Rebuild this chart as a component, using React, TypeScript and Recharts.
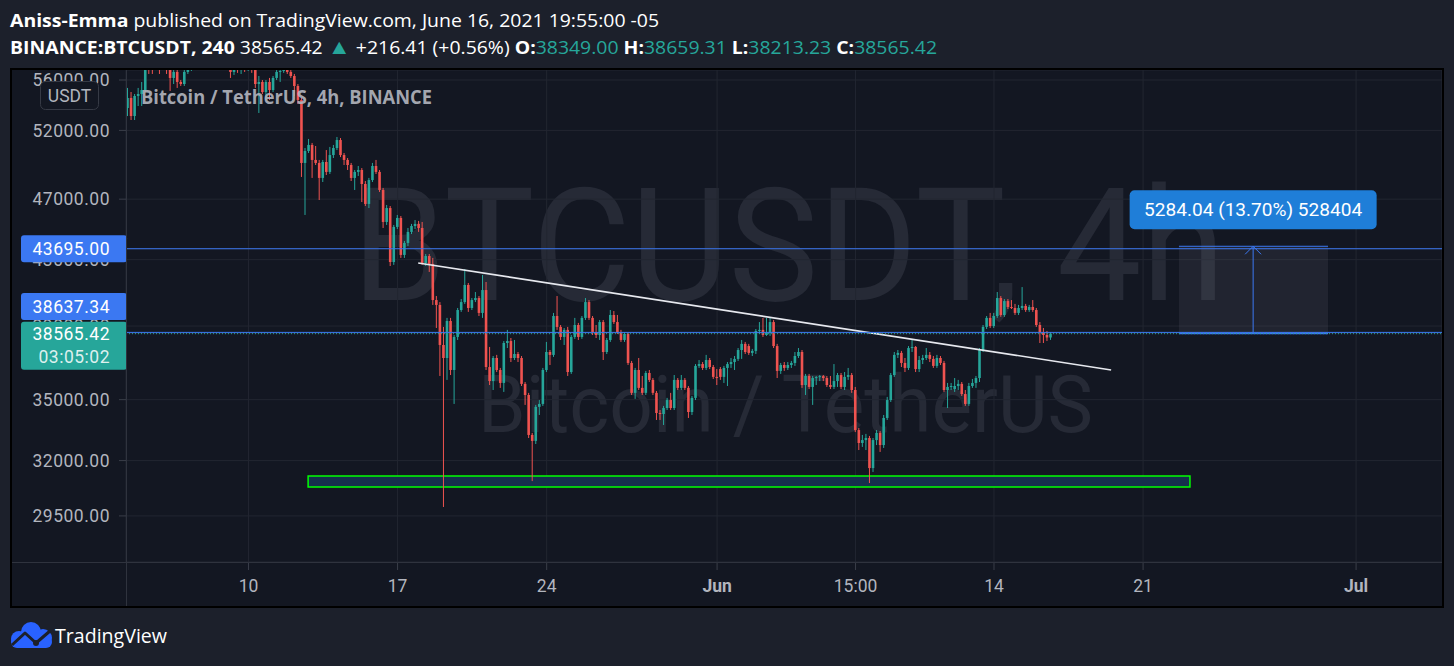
import React from "react";
import {
  ComposedChart,
  Bar,
  XAxis,
  YAxis,
  CartesianGrid,
  ReferenceLine,
  ReferenceArea,
} from "recharts";

// BINANCE:BTCUSDT 4h candles.
// Bar 0 is the first bar of May 10 (03:00, UTC-5); one bar every 4 hours.
const FIRST_BAR = -34;

const opens = [
  53740, 54540, 53110, 54700, 54860, 55180, 57500, 57170, 57000, 57420,
  57080, 57670, 56830, 56170, 56670, 55840, 55670, 56670, 57340, 57670,
  57930, 57500, 58020, 58360, 57840, 58530, 57930, 57500, 57840, 57170,
  56670, 57340, 56830, 57170, 57000, 57420, 56830, 55670, 55840, 55020,
  55840, 55180, 56170, 56670, 56750, 57080, 56670, 56330, 55510, 54380,
  49570, 50450, 50900, 49790, 49570, 48490, 49640, 48920, 50150, 50670,
  51270, 50150, 49790, 49420, 48490, 48920, 49060, 48060, 46670, 48340,
  49350, 48920, 47640, 45450, 46390, 42850, 45120, 45720, 43300, 44070,
  44790, 45180, 45320, 45050, 42790, 43230, 42730, 40520, 40230, 37930,
  37210, 39290, 36560, 38380, 39930, 40400, 41430, 40050, 40520, 40640,
  39760, 41120, 36720, 35970, 37210, 36560, 35870, 38040, 38150, 37210,
  37430, 37210, 35820, 35240, 33230, 32940, 34630, 34780, 36560, 37540,
  37380, 39580, 38950, 38380, 38780, 36450, 38380, 39060, 38380, 39470,
  40400, 39470, 38660, 38490, 39230, 37540, 38210, 39640, 39230, 38660,
  38210, 38550, 36940, 35350, 36560, 35610, 35350, 36400, 36030, 35350,
  34320, 34270, 34570, 34980, 34570, 36030, 35610, 36030, 35610, 34370,
  35090, 36780, 36880, 36670, 37100, 36720, 36190, 36610, 36190, 36670,
  36880, 36990, 37160, 37650, 37990, 37870, 37490, 37600, 38720, 38780,
  38490, 38610, 39230, 37870, 36510, 36830, 36670, 36830, 36940, 37320,
  37540, 35760, 36240, 35660, 36130, 36180, 36230, 36130, 35760, 35660,
  35970, 36290, 35660, 36190, 36290, 35500, 33470, 32840, 32980, 33080,
  31650, 32980, 33330, 32740, 34070, 34980, 36290, 37380, 37490, 36940,
  36670, 37760, 37820, 36610, 37100, 37210, 37380, 37160, 36780, 37210,
  36940, 35500, 35660, 35550, 35710, 35820, 35290, 34780, 35710, 35870,
  36130, 37650, 38950, 39470, 39000, 39580, 40640, 39640, 40460, 40110,
  40050, 39760, 40050, 40170, 39930, 40110, 39930, 39060, 38660, 38490,
  38349,
];

const highs = [
  55350, 55020, 54860, 55350, 55840, 57840, 57930, 57500, 57670, 57670,
  57930, 57930, 57000, 57080, 56830, 56000, 56830, 57500, 58020, 58190,
  58100, 58270, 58530, 58530, 58700, 58700, 58100, 58100, 58020, 57500,
  57670, 57590, 57500, 57420, 57670, 57670, 57000, 56330, 56000, 56000,
  56170, 56330, 56830, 57170, 57340, 57340, 56920, 56500, 55670, 54540,
  50670, 51350, 51050, 50820, 49790, 49790, 50520, 50750, 50900, 51500,
  51420, 50300, 49930, 49570, 49060, 49350, 49200, 48270, 48490, 49570,
  49790, 49060, 47780, 46600, 46530, 45250, 45920, 45850, 44200, 45050,
  45320, 45580, 45520, 45450, 43360, 43360, 43110, 40760, 40400, 38950,
  39470, 39470, 38490, 40050, 40580, 42410, 41550, 40640, 41000, 40760,
  42040, 41610, 37820, 37320, 37380, 36670, 38150, 38780, 38320, 38210,
  37540, 37320, 35920, 35350, 33330, 34730, 34980, 36670, 38100, 37650,
  39760, 40760, 39060, 38890, 38950, 38490, 39470, 39180, 39580, 40640,
  40520, 39580, 39060, 39350, 39350, 38320, 39930, 39870, 39640, 38780,
  38660, 38660, 37050, 36670, 37210, 36240, 36510, 36560, 36130, 35450,
  34470, 34680, 35090, 35350, 36290, 36130, 36290, 36130, 35710, 35190,
  36880, 37100, 36990, 37380, 37210, 36830, 36610, 36720, 36780, 36990,
  37210, 37320, 37760, 38210, 38100, 37990, 37710, 38830, 39230, 39470,
  39470, 39470, 39350, 37990, 36940, 36990, 36990, 37050, 37540, 37760,
  37650, 36350, 36350, 36240, 36240, 36290, 36290, 36240, 36240, 36880,
  36400, 36400, 36450, 36670, 36400, 35660, 33570, 33230, 33280, 33180,
  33080, 33470, 33420, 34220, 35140, 36400, 37540, 37650, 37600, 37210,
  37870, 38210, 37870, 37320, 37380, 37760, 37540, 37320, 37380, 37320,
  37050, 35870, 35870, 36130, 36030, 35920, 35500, 35870, 36080, 36240,
  37760, 39060, 39580, 39760, 39760, 41000, 40760, 40580, 40580, 40520,
  40290, 40230, 41300, 40290, 40230, 40520, 40050, 39230, 38890, 38720,
  38659.31,
];

const lows = [
  53110, 52800, 52800, 53900, 53900, 55020, 56500, 56500, 56830, 56500,
  56920, 56500, 55100, 55670, 55350, 55510, 55510, 56500, 56750, 57340,
  57340, 57340, 57670, 57500, 57590, 57670, 57250, 57170, 56830, 56170,
  56420, 56590, 56500, 56670, 56750, 56590, 55350, 53350, 54860, 54380,
  54380, 55020, 56000, 55840, 56590, 56500, 56170, 54700, 54060, 48560,
  45920, 50300, 48490, 49420, 46940, 48200, 48700, 48770, 49930, 50520,
  50000, 49420, 49060, 48270, 47640, 48630, 46800, 46530, 46390, 48200,
  48770, 47500, 45050, 45250, 42600, 42670, 44980, 43110, 43110, 43870,
  44650, 44980, 44790, 42670, 42600, 42230, 40230, 38890, 36240, 29890,
  36030, 36290, 34780, 38210, 39820, 40290, 39820, 39930, 40400, 39580,
  39470, 36560, 35760, 35500, 36450, 35610, 35400, 37760, 36990, 37100,
  36990, 35710, 34730, 33080, 31050, 32790, 34220, 34680, 36450, 36830,
  37270, 38780, 38210, 37930, 36240, 36350, 38270, 38210, 38270, 39350,
  39350, 38490, 38320, 38210, 37100, 37430, 38100, 39120, 38550, 38100,
  38100, 36830, 35240, 35040, 35500, 35240, 35240, 35920, 35240, 33970,
  33970, 33720, 34470, 34470, 34470, 35500, 35500, 35500, 34070, 34220,
  34980, 36670, 36560, 36560, 36610, 36080, 35760, 36030, 35870, 35710,
  36670, 36560, 37050, 37160, 37430, 37380, 37320, 37430, 38550, 38380,
  38440, 38440, 37760, 36130, 36350, 36510, 36560, 36670, 36780, 37210,
  35610, 35240, 35550, 34730, 35760, 35970, 35970, 35660, 35550, 35550,
  35660, 35550, 35500, 36030, 35350, 33370, 32500, 32650, 32500, 30960,
  31470, 32740, 32410, 32600, 33970, 34880, 36190, 37210, 36720, 36450,
  36560, 37540, 36450, 36450, 36880, 37100, 36990, 36670, 36670, 36830,
  35400, 34570, 35500, 35400, 35500, 35190, 34680, 34680, 35610, 35610,
  35920, 37540, 38830, 38890, 38890, 39470, 39530, 39530, 39990, 39990,
  39640, 39640, 39930, 39820, 39820, 39820, 38950, 38040, 38040, 38150,
  38213.23,
];

const closes = [
  54540, 53110, 54700, 54860, 55180, 57500, 57170, 57000, 57420, 57080,
  57670, 56830, 56170, 56670, 55840, 55670, 56670, 57340, 57670, 57930,
  57500, 58020, 58360, 57840, 58530, 57930, 57500, 57840, 57170, 56670,
  57340, 56830, 57170, 57000, 57420, 56830, 55670, 55840, 55020, 55840,
  55180, 56170, 56670, 56750, 57080, 56670, 56330, 55510, 54380, 49570,
  50450, 50900, 49790, 49570, 48490, 49640, 48920, 50150, 50670, 51270,
  50150, 49790, 49420, 48490, 48920, 49060, 48060, 46670, 48340, 49350,
  48920, 47640, 45450, 46390, 42850, 45120, 45720, 43300, 44070, 44790,
  45180, 45320, 45050, 42790, 43230, 42730, 40520, 40230, 37930, 37210,
  39290, 36560, 38380, 39930, 40400, 41430, 40050, 40520, 40640, 39760,
  41120, 36720, 35970, 37210, 36560, 35870, 38040, 38150, 37210, 37430,
  37210, 35820, 35240, 33230, 32940, 34630, 34780, 36560, 37540, 37380,
  39580, 38950, 38380, 38780, 36450, 38380, 39060, 38380, 39470, 40400,
  39470, 38660, 38490, 39230, 37540, 38210, 39640, 39230, 38660, 38210,
  38550, 36940, 35350, 36560, 35610, 35350, 36400, 36030, 35350, 34320,
  34270, 34570, 34980, 34570, 36030, 35610, 36030, 35610, 34370, 35090,
  36780, 36880, 36670, 37100, 36720, 36190, 36130, 36190, 36670, 36880,
  36990, 37160, 37650, 37990, 37540, 37490, 37600, 38720, 38780, 38490,
  38610, 39230, 37870, 36510, 36830, 36670, 36830, 36940, 37320, 37540,
  35760, 36240, 35660, 36130, 36180, 36230, 36130, 35760, 35660, 35970,
  36290, 35660, 36190, 36290, 35500, 33470, 32840, 32980, 33080, 31650,
  32980, 33330, 32740, 34070, 34980, 36290, 37380, 37490, 36940, 36670,
  37760, 37820, 36610, 37100, 37210, 37380, 37160, 36780, 37210, 36940,
  35500, 35660, 35710, 35710, 35820, 35290, 34780, 35710, 35870, 36130,
  37650, 38950, 39470, 39000, 39580, 40640, 39640, 40460, 40110, 40050,
  39760, 40050, 40170, 39930, 40110, 39930, 39060, 38660, 38490, 38350,
  38565.42,
];

const xTickBars = [0, 42, 84, 132, 171, 210, 252, 312];
const xTickLabels = ["10", "17", "24", "Jun", "15:00", "14", "21", "Jul"];
const yTicks = [29500, 32000, 35000, 39000, 43000, 47000, 52000, 56000];

// drawings on the chart
const levelPrice = 43695;
const alertPrice = 38637.34;
const lastPrice = 38565.42;
const countdown = "03:05:02";
const trendFrom = { bar: 47.8, price: 42790 };
const trendTo = { bar: 243, price: 36560 };
const zoneBars = [16.8, 265.2];
const zonePrices = [30780, 31280];
const rangeBars = [262.1, 304.1];
const rangeMidBar = 283;
const rangePrices = [38570, 43854];
const rangeText = "5284.04 (13.70%) 528404";

const tagPrices = [levelPrice, alertPrice, lastPrice];

const X_DOMAIN = [-34.5, 336.2];
const Y_DOMAIN = [27567, 56830];

const UP = "#26a69a";
const DOWN = "#ef5350";
const BLUE = "#3b78f2";
const PAGE_BG = "#1c202b";
const CHART_BG = "#131722";
const GRID = "#222631";
const AXIS_TEXT = "#b2b5be";

function Candle(props: any) {
  const { x, y, width, height, payload } = props;
  if (!payload || !isFinite(y) || !isFinite(height)) return null;
  const { open, close, high, low } = payload;
  const span = Math.log(high) - Math.log(low);
  // log scale: place open/close between the high (y) and low (y + height) pixels
  const py = (v: number) =>
    span > 0 ? y + (height * (Math.log(high) - Math.log(v))) / span : y;
  const cx = x + width / 2;
  const color = close >= open ? UP : DOWN;
  const top = py(Math.max(open, close));
  const bottom = py(Math.min(open, close));
  return (
    <g>
      <line x1={cx} x2={cx} y1={y} y2={y + height} stroke={color} strokeWidth={1} />
      <rect x={cx - 1.3} y={top} width={2.6} height={Math.max(1, bottom - top)} fill={color} />
    </g>
  );
}

function XTick(props: any) {
  const { x, y, payload } = props;
  const label = xTickLabels[xTickBars.indexOf(payload.value)];
  const month = label === "Jun" || label === "Jul";
  return (
    <text
      x={x}
      y={y + 22}
      textAnchor="middle"
      fill={AXIS_TEXT}
      fontSize={17.5}
      fontFamily="Roboto"
      fontWeight={month ? 700 : 400}
    >
      {label}
    </text>
  );
}

const tagText = {
  textAnchor: "end" as const,
  fill: "#ffffff",
  fontSize: 17.5,
  fontFamily: "Roboto",
  letterSpacing: 0.5,
};

// the price tags are extra ticks listed after the grid ticks, so they are drawn over the labels they cover
function YTick(props: any) {
  const { x, y, payload } = props;
  const v = payload.value;
  if (!tagPrices.includes(v)) {
    return (
      <text x={x} y={y} dy="0.36em" {...tagText} fill={AXIS_TEXT}>
        {Number(v).toFixed(2)}
      </text>
    );
  }
  const isLast = v === lastPrice;
  const fill = isLast ? UP : BLUE;
  const shift = v === alertPrice ? -26 : 0;
  const h = isLast ? 48 : 27;
  const top = y + shift - (isLast ? 12 : 13.5);
  const right = x + 17;
  return (
    <g>
      <rect x={right - 106} y={top} width={106} height={h} rx={3} fill={fill} />
      <text x={x} y={top + (isLast ? 12 : 13.5)} dy="0.36em" {...tagText}>
        {Number(v).toFixed(2)}
      </text>
      {isLast && (
        <text x={x} y={top + 35} dy="0.36em" fillOpacity={0.85} {...tagText}>
          {countdown}
        </text>
      )}
    </g>
  );
}

function rangeLabel(props: any) {
  const vb = props.viewBox;
  if (!vb) return null;
  const cx = vb.x;
  const top = vb.y;
  return (
    <g>
      <polyline
        points={`${cx - 8},${top + 8} ${cx},${top} ${cx + 8},${top + 8}`}
        fill="none"
        stroke={BLUE}
        strokeWidth={1}
      />
      <rect x={cx - 123.5} y={top - 56} width={247} height={39} rx={5} fill="#1f7ed8" />
      <text
        x={cx}
        y={top - 36.5}
        dy="0.36em"
        textAnchor="middle"
        fill="#ffffff"
        fontSize={18}
        fontFamily="Roboto"
        textLength={218}
        lengthAdjust="spacingAndGlyphs"
      >
        {rangeText}
      </text>
    </g>
  );
}

export default function App() {
  const data = opens.map((open, i) => ({
    bar: i + FIRST_BAR,
    open,
    high: highs[i],
    low: lows[i],
    close: closes[i],
  }));

  return (
    <div
      style={{
        position: "fixed",
        left: 0,
        top: 0,
        width: 1454,
        height: 666,
        background: PAGE_BG,
        overflow: "hidden",
      }}
    >
      {/* header */}
      <svg width={1454} height={66} style={{ position: "absolute", left: 0, top: 0 }}>
        <text
          x={10}
          y={27}
          fontFamily="Open Sans"
          fontSize={17.5}
          fill="#ffffff"
          textLength={649}
          lengthAdjust="spacingAndGlyphs"
        >
          <tspan fontWeight={700}>Aniss-Emma</tspan>
          {" published on TradingView.com, June 16, 2021 19:55:00 -05"}
        </text>
        <text
          x={10}
          y={54}
          fontFamily="Open Sans"
          fontSize={17.5}
          fill="#ffffff"
          textLength={927}
          lengthAdjust="spacingAndGlyphs"
        >
          <tspan fontWeight={700}>BINANCE:BTCUSDT, 240</tspan>
          {" 38565.42 "}
          <tspan fill={UP} fontSize={21}>▲</tspan>
          {" +216.41 (+0.56%) "}
          <tspan fontWeight={700}>O:</tspan>
          <tspan fill={UP}>38349.00</tspan>
          <tspan fontWeight={700}> H:</tspan>
          <tspan fill={UP}>38659.31</tspan>
          <tspan fontWeight={700}> L:</tspan>
          <tspan fill={UP}>38213.23</tspan>
          <tspan fontWeight={700}> C:</tspan>
          <tspan fill={UP}>38565.42</tspan>
        </text>
      </svg>

      {/* chart frame */}
      <div
        style={{
          position: "absolute",
          left: 10,
          top: 68,
          width: 1434,
          height: 540,
          boxSizing: "border-box",
          border: "2px solid #000000",
          background: CHART_BG,
        }}
      />

      {/* symbol watermark */}
      <svg width={1454} height={666} style={{ position: "absolute", left: 0, top: 0 }}>
        <text
          x={352}
          y={300}
          fontFamily="Roboto"
          fontSize={158}
          fill="#262a36"
          textLength={873}
          lengthAdjust="spacingAndGlyphs"
        >
          BTCUSDT, 4h
        </text>
        <text
          x={478}
          y={432}
          fontFamily="Roboto"
          fontSize={80}
          fill="#262a36"
          textLength={615}
          lengthAdjust="spacingAndGlyphs"
        >
          Bitcoin / TetherUS
        </text>
      </svg>

      <div style={{ position: "absolute", left: 12, top: 70 }}>
        <ComposedChart
          width={1430}
          height={536}
          data={data}
          margin={{ top: 0, right: 0, bottom: 0, left: 0 }}
        >
          <CartesianGrid stroke={GRID} strokeWidth={1} />
          <XAxis
            dataKey="bar"
            type="number"
            domain={X_DOMAIN}
            allowDataOverflow
            ticks={xTickBars}
            interval={0}
            height={44}
            axisLine={false}
            tickLine={{ stroke: "#3a3e49" }}
            tickSize={8}
            tickMargin={0}
            tick={<XTick />}
          />
          <YAxis
            orientation="left"
            scale="log"
            domain={Y_DOMAIN}
            allowDataOverflow
            ticks={[...yTicks, ...tagPrices]}
            interval={0}
            width={114}
            axisLine={false}
            tickLine={{ stroke: "#3a3e49" }}
            tickSize={7}
            tickMargin={9}
            tick={<YTick />}
          />

          <ReferenceArea
            x1={zoneBars[0]}
            x2={zoneBars[1]}
            y1={zonePrices[0]}
            y2={zonePrices[1]}
            fill="#162f4d"
            fillOpacity={1}
            stroke="#00ff00"
            strokeWidth={1.5}
          />
          <ReferenceArea
            x1={rangeBars[0]}
            x2={rangeBars[1]}
            y1={rangePrices[0]}
            y2={rangePrices[1]}
            fill="#787b86"
            fillOpacity={0.14}
            stroke="none"
          />

          <Bar
            dataKey={(d: any) => [d.low, d.high]}
            barSize={3}
            shape={<Candle />}
            isAnimationActive={false}
          />

          <ReferenceLine
            segment={[
              { x: trendFrom.bar, y: trendFrom.price },
              { x: trendTo.bar, y: trendTo.price },
            ]}
            stroke="#e6e8ee"
            strokeWidth={1.6}
          />

          <ReferenceLine
            segment={[
              { x: rangeBars[0], y: rangePrices[1] },
              { x: rangeBars[1], y: rangePrices[1] },
            ]}
            stroke={BLUE}
            strokeWidth={1}
          />
          <ReferenceLine
            segment={[
              { x: rangeBars[0], y: rangePrices[0] },
              { x: rangeBars[1], y: rangePrices[0] },
            ]}
            stroke={BLUE}
            strokeWidth={1.5}
          />
          <ReferenceLine
            segment={[
              { x: rangeMidBar, y: rangePrices[0] },
              { x: rangeMidBar, y: rangePrices[1] },
            ]}
            stroke={BLUE}
            strokeWidth={1}
            label={rangeLabel}
          />

          <ReferenceLine y={levelPrice} stroke={BLUE} strokeWidth={1} />
          <ReferenceLine y={alertPrice} stroke={BLUE} strokeWidth={1} />
          <ReferenceLine y={lastPrice} stroke={UP} strokeWidth={1} strokeDasharray="1 2" />
        </ComposedChart>
      </div>

      {/* axis separators */}
      <div style={{ position: "absolute", left: 12, top: 562, width: 1430, height: 1, background: "#2f333e" }} />
      <div style={{ position: "absolute", left: 126, top: 70, width: 1, height: 536, background: "#2f333e" }} />

      {/* legend title and currency badge */}
      <svg width={1454} height={666} style={{ position: "absolute", left: 0, top: 0, pointerEvents: "none" }}>
        <text
          x={141}
          y={104}
          fontFamily="Open Sans"
          fontWeight={700}
          fontSize={19}
          fill={AXIS_TEXT}
          fillOpacity={0.92}
          textLength={291}
          lengthAdjust="spacingAndGlyphs"
        >
          Bitcoin / TetherUS, 4h, BINANCE
        </text>
        <rect x={40.5} y={81.5} width={58} height={28} rx={5} fill={CHART_BG} stroke="#363a45" />
        <text x={69.5} y={101.5} textAnchor="middle" fontFamily="Roboto" fontSize={17.5} fill={AXIS_TEXT}>
          USDT
        </text>
      </svg>

      {/* footer logo */}
      <svg width={300} height={54} style={{ position: "absolute", left: 0, top: 612 }}>
        <g fill="#2962ff">
          <circle cx={19} cy={27} r={8} />
          <circle cx={31} cy={20} r={10} />
          <circle cx={43} cy={26} r={9} />
          <rect x={11} y={24} width={41} height={12} rx={6} />
        </g>
        <polyline
          points="12,33 25,21 36,31 50,19"
          fill="none"
          stroke={PAGE_BG}
          strokeWidth={3}
          strokeLinejoin="round"
        />
        <circle cx={36} cy={31} r={3} fill={PAGE_BG} />
        <text
          x={55}
          y={31}
          fontFamily="Open Sans"
          fontSize={20}
          fill="#ffffff"
          textLength={112}
          lengthAdjust="spacingAndGlyphs"
        >
          TradingView
        </text>
      </svg>
    </div>
  );
}
